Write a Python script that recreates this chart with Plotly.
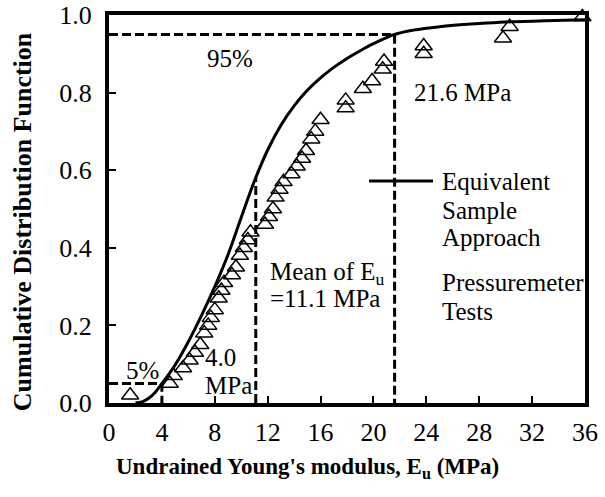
import plotly.graph_objects as go

# ---- data ----
# Equivalent Sample Approach (CDF curve)
curve_x = [2.0, 2.5, 3.0, 3.5, 4.0, 5.0, 6.0, 7.0, 8.0, 9.0, 10.0, 11.0, 12.0, 13.0, 14.0, 15.0, 16.0, 17.0,
           18.0, 19.0, 20.0, 21.6, 23.0, 25.0, 28.0, 30.0, 33.0, 36.0]
curve_y = [0.000, 0.003, 0.012, 0.028, 0.050, 0.098, 0.158, 0.226, 0.300, 0.382, 0.478, 0.572, 0.652, 0.716,
           0.766, 0.806, 0.838, 0.865, 0.888, 0.908, 0.926, 0.950, 0.961, 0.970, 0.978, 0.982, 0.985, 0.988]

# Pressuremeter tests (empirical CDF)
pmt_x = [1.6, 4.6, 4.9, 5.6, 6.1, 6.5, 6.9, 7.2, 7.5, 7.7, 8.0, 8.3, 8.5, 8.7, 9.3, 9.6, 9.9, 10.2, 10.5, 10.7,
         11.8, 12.1, 12.4, 12.6, 12.9, 13.2, 13.8, 14.2, 14.6, 14.9, 15.3, 15.6, 16.0,
         17.9, 17.9, 19.2, 19.9, 20.7, 20.8, 23.8, 23.8, 29.8, 30.3, 35.8]
pmt_y = [0.02, 0.05, 0.07, 0.09, 0.11, 0.13, 0.15, 0.18, 0.20, 0.22, 0.24, 0.27, 0.29, 0.31, 0.33, 0.35, 0.38, 0.40, 0.42, 0.44,
         0.46, 0.48, 0.50, 0.53, 0.55, 0.57, 0.59, 0.61, 0.63, 0.65, 0.68, 0.70, 0.73,
         0.76, 0.78, 0.81, 0.83, 0.86, 0.88, 0.90, 0.92, 0.94, 0.97, 0.995]

p5_x, p5 = 4.0, 0.05
p95_x, p95 = 21.6, 0.95
mean_x, mean_cdf = 11.1, 0.58

x_ticks = [0, 4, 8, 12, 16, 20, 24, 28, 32, 36]
y_ticks = [0.0, 0.2, 0.4, 0.6, 0.8, 1.0]

FONT = "Liberation Serif"
dash = "9px,4px"

fig = go.Figure()

# dashed reference lines
for xs, ys in [([0, p95_x, p95_x], [p95, p95, 0]),
               ([0, p5_x, p5_x], [p5, p5, 0]),
               ([mean_x, mean_x], [0, mean_cdf])]:
    fig.add_trace(go.Scatter(x=xs, y=ys, mode="lines",
                             line=dict(color="black", width=3, dash=dash),
                             showlegend=False, hoverinfo="skip"))

# curve
fig.add_trace(go.Scatter(x=curve_x, y=curve_y, mode="lines", name="Equivalent Sample Approach",
                         line=dict(color="black", width=3, shape="spline", smoothing=1.0),
                         showlegend=False))
# data points
fig.add_trace(go.Scatter(x=pmt_x, y=pmt_y, mode="markers", name="Pressuremeter Tests",
                         marker=dict(symbol="triangle-up-open", size=15, color="black",
                                     line=dict(color="black", width=1.5)),
                         cliponaxis=False, showlegend=False))

fig.update_xaxes(range=[0, 36], tickvals=x_ticks, ticktext=[str(v) for v in x_ticks],
                 ticks="inside", ticklen=7, tickwidth=1.5, tickcolor="black",
                 showline=True, linewidth=4, linecolor="black", mirror=True,
                 showgrid=False, zeroline=False, ticklabelstandoff=3, automargin=False,
                 tickfont=dict(family=FONT, size=26, color="black"))
fig.update_yaxes(range=[0, 1], tickvals=y_ticks, ticktext=[f"{v:.1f}" for v in y_ticks],
                 ticks="inside", ticklen=7, tickwidth=1.5, tickcolor="black",
                 showline=True, linewidth=4, linecolor="black", mirror=True,
                 showgrid=False, zeroline=False, ticklabelstandoff=8, automargin=False,
                 tickfont=dict(family=FONT, size=26, color="black"))

ann_font = dict(family=FONT, size=25, color="black")
annotations = [
    dict(x=9.15, y=0.889, text="95%", xanchor="center", yanchor="middle"),
    dict(x=22.9, y=0.80, text="21.6 MPa", xanchor="left", yanchor="middle"),
    dict(x=2.57, y=0.085, text="5%", xanchor="center", yanchor="middle"),
    dict(x=7.1, y=0.118, text="4.0", xanchor="left", yanchor="middle"),
    dict(x=7.1, y=0.046, text="MPa", xanchor="left", yanchor="middle"),
    dict(x=12.0, y=0.335, text="Mean of E<sub>u</sub>", xanchor="left", yanchor="middle"),
    dict(x=12.0, y=0.27, text="=11.1 MPa", xanchor="left", yanchor="middle"),
]
for a in annotations:
    a.update(xref="x", yref="y", showarrow=False, font=ann_font)

# manual legend
leg_lines = [("Equivalent", 181), ("Sample", 210), ("Approach", 238), ("Pressuremeter", 282), ("Tests", 311)]
for txt, py in leg_lines:
    annotations.append(dict(xref="paper", yref="paper", x=(440 - 109) / 476, y=(403 - py) / 388,
                            text=txt, showarrow=False, xanchor="left", yanchor="middle", font=ann_font))

# axis titles
annotations.append(dict(xref="paper", yref="paper", x=(307 - 109) / 476, y=(403 - 468) / 388,
                        text="<b>Undrained Young's modulus, E<sub>u</sub> (MPa)</b>", showarrow=False,
                        xanchor="center", yanchor="middle", font=dict(family=FONT, size=23, color="black")))
annotations.append(dict(xref="paper", yref="paper", x=(22 - 109) / 476, y=0.466,
                        text="<b>Cumulative Distribution Function</b>", showarrow=False, textangle=-90,
                        xanchor="center", yanchor="middle", font=dict(family=FONT, size=26, color="black")))

fig.update_layout(
    width=605, height=497,
    margin=dict(l=109, r=20, t=15, b=94, autoexpand=False),
    paper_bgcolor="white", plot_bgcolor="white",
    annotations=annotations,
    shapes=[dict(type="line", xref="paper", yref="paper",
                 x0=(369 - 109) / 476, x1=(433 - 109) / 476,
                 y0=(403 - 181) / 388, y1=(403 - 181) / 388,
                 line=dict(color="black", width=3))],
    showlegend=False,
)

fig.write_html("out.html", config={"responsive": False, "displayModeBar": False},
               post_script="document.body.style.margin='0';document.body.style.overflow='hidden';")
